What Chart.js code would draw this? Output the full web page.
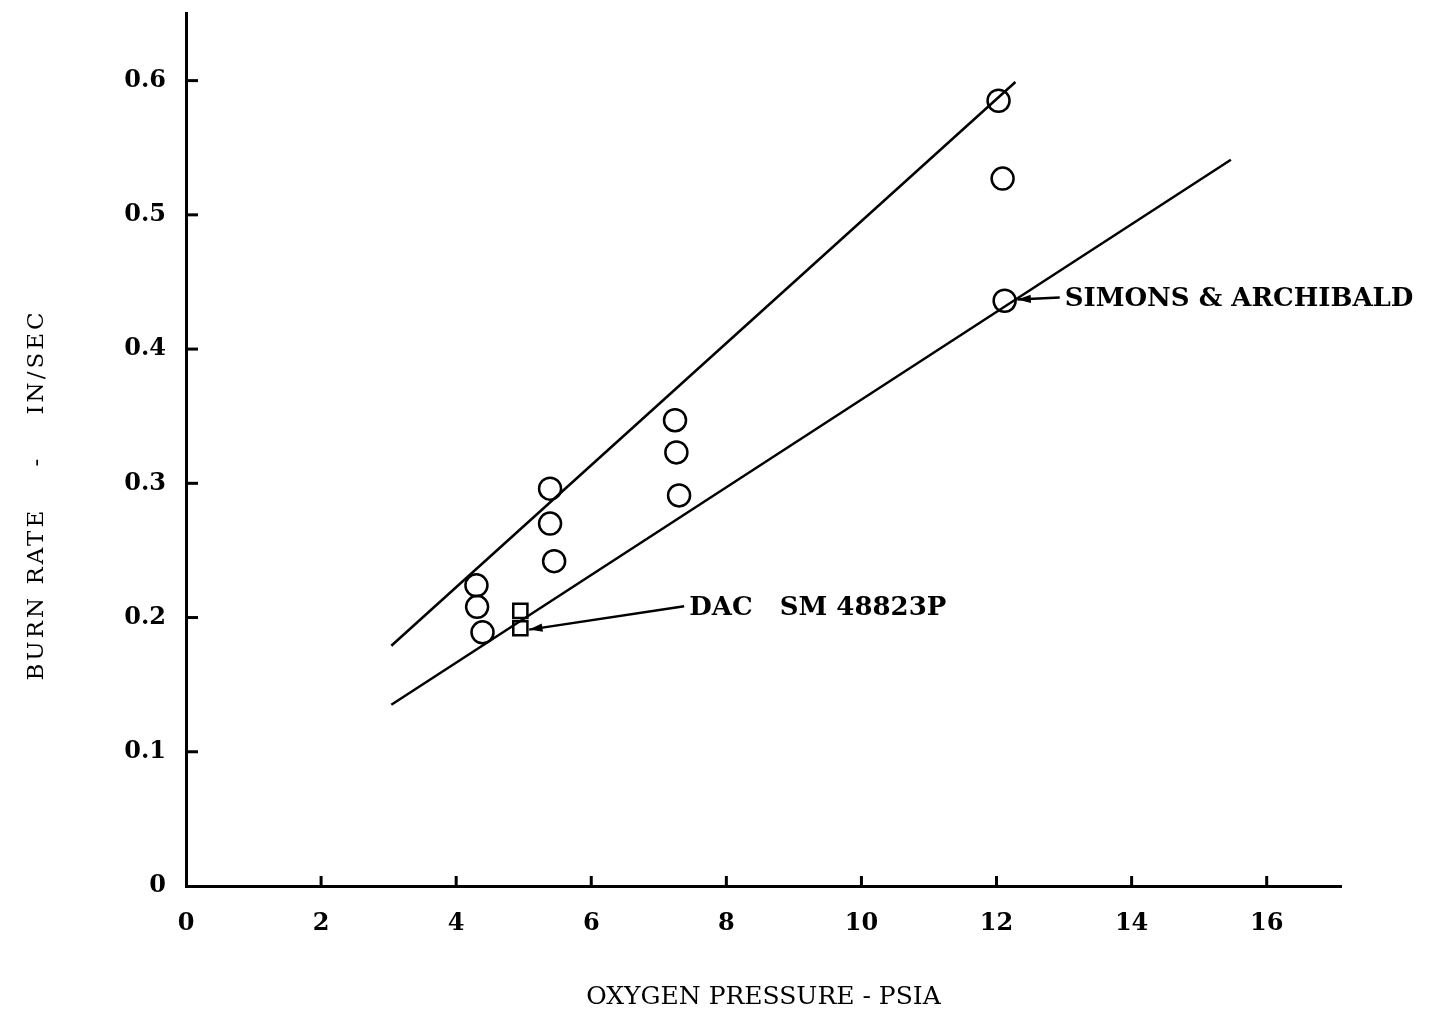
<!DOCTYPE html>
<html>
<head>
<meta charset="utf-8">
<script src="https://cdn.jsdelivr.net/npm/chart.js@4.4.0/dist/chart.umd.min.js"></script>
<style>
  body { margin: 0; background: #fff; }
  #wrap { width: 1431px; height: 1014px; }
</style>
</head>
<body>
<div id="wrap"><canvas id="chart" width="1431" height="1014"></canvas></div>
<script>
// measured points, oxygen pressure (psia) vs burn rate (in/sec)
const circleX = [4.30, 4.31, 4.39, 5.39, 5.39, 5.45, 7.24, 7.26, 7.30, 12.03, 12.09, 12.12];
const circleY = [0.224, 0.208, 0.189, 0.296, 0.270, 0.242, 0.347, 0.323, 0.291, 0.585, 0.527, 0.436];

const squareX = [4.95, 4.95];
const squareY = [0.205, 0.192];

// the two fitted lines, end points
const upperX = [3.04, 12.28];
const upperY = [0.179, 0.599];
const lowerX = [3.04, 15.47];
const lowerY = [0.135, 0.541];

const xTicks = [0, 2, 4, 6, 8, 10, 12, 14, 16];
const yTicks = [0, 0.1, 0.2, 0.3, 0.4, 0.5, 0.6];

// callouts: label text, where the text starts, where the arrow points
const notes = [
  { text: 'DAC   SM 48823P', x: 7.42, y: 0.207, tipX: 5.08, tipY: 0.191 },
  { text: 'SIMONS & ARCHIBALD', x: 12.98, y: 0.437, tipX: 12.31, tipY: 0.437 },
];

const toPts = (xs, ys) => xs.map((x, i) => ({ x, y: ys[i] }));

const SERIF = '"DejaVu Serif", "Liberation Serif", serif';

const extras = {
  id: 'extras',
  afterDraw(chart) {
    const { ctx, chartArea } = chart;
    const xs = chart.scales.x;
    const ys = chart.scales.y;
    ctx.save();
    ctx.strokeStyle = '#000';
    ctx.fillStyle = '#000';

    // tick marks point inward
    ctx.lineWidth = 3;
    for (const v of xTicks) {
      if (v === 0) continue;
      const px = xs.getPixelForValue(v);
      ctx.beginPath();
      ctx.moveTo(px, chartArea.bottom);
      ctx.lineTo(px, chartArea.bottom - 10);
      ctx.stroke();
    }
    for (const v of yTicks) {
      if (v === 0) continue;
      const py = ys.getPixelForValue(v);
      ctx.beginPath();
      ctx.moveTo(chartArea.left, py);
      ctx.lineTo(chartArea.left + 12, py);
      ctx.stroke();
    }

    // callouts
    ctx.font = 'bold 26px ' + SERIF;
    ctx.textBaseline = 'middle';
    ctx.textAlign = 'left';
    ctx.lineWidth = 2.5;
    for (const n of notes) {
      const tx = xs.getPixelForValue(n.x);
      const ty = ys.getPixelForValue(n.y);
      const ax = xs.getPixelForValue(n.tipX);
      const ay = ys.getPixelForValue(n.tipY);
      const sx = tx - 3;
      ctx.beginPath();
      ctx.moveTo(sx, ty - 2);
      ctx.lineTo(ax, ay);
      ctx.stroke();
      const ang = Math.atan2(ay - (ty - 2), ax - sx);
      ctx.beginPath();
      ctx.moveTo(ax, ay);
      ctx.lineTo(ax - 14 * Math.cos(ang - 0.3), ay - 14 * Math.sin(ang - 0.3));
      ctx.lineTo(ax - 14 * Math.cos(ang + 0.3), ay - 14 * Math.sin(ang + 0.3));
      ctx.closePath();
      ctx.fill();
      ctx.fillText(n.text, tx + 2, ty);
    }

    // y axis title
    ctx.font = '23px ' + SERIF;
    ctx.letterSpacing = '3px';
    ctx.textAlign = 'center';
    ctx.translate(37, 495);
    ctx.rotate(-Math.PI / 2);
    ctx.fillText('BURN RATE    -    IN/SEC', 0, 0);
    ctx.restore();
  },
};

new Chart(document.getElementById('chart'), {
  type: 'scatter',
  data: {
    datasets: [
      {
        label: 'Upper fit',
        type: 'line',
        data: toPts(upperX, upperY),
        borderColor: '#000',
        borderWidth: 2.5,
        pointRadius: 0,
        fill: false,
      },
      {
        label: 'Lower fit',
        type: 'line',
        data: toPts(lowerX, lowerY),
        borderColor: '#000',
        borderWidth: 2.5,
        pointRadius: 0,
        fill: false,
      },
      {
        label: 'Simons & Archibald',
        data: toPts(circleX, circleY),
        pointStyle: 'circle',
        pointRadius: 11,
        backgroundColor: 'rgba(255,255,255,0)',
        borderColor: '#000',
        borderWidth: 2.5,
      },
      {
        label: 'DAC SM 48823P',
        data: toPts(squareX, squareY),
        pointStyle: 'rect',
        pointRadius: 10,
        backgroundColor: 'rgba(255,255,255,0)',
        borderColor: '#000',
        borderWidth: 2.5,
      },
    ],
  },
  options: {
    responsive: false,
    maintainAspectRatio: false,
    animation: false,
    layout: { padding: { top: 10, right: 90, left: 0, bottom: 0 } },
    plugins: {
      legend: { display: false },
      tooltip: { enabled: false },
    },
    scales: {
      x: {
        type: 'linear',
        min: 0,
        max: 17.1,
        grid: { display: false },
        border: { color: '#000', width: 3 },
        ticks: {
          stepSize: 2,
          includeBounds: false,
          color: '#000',
          padding: 15,
          font: { family: SERIF, size: 24, weight: 'bold' },
        },
        title: {
          display: true,
          text: 'OXYGEN PRESSURE - PSIA',
          color: '#000',
          font: { family: SERIF, size: 25 },
          padding: { top: 0, bottom: 2 },
        },
        afterFit(scale) {
          scale.height = 128;
          scale.paddingLeft = 0;
          scale.paddingRight = 0;
        },
      },
      y: {
        type: 'linear',
        min: 0,
        max: 0.65,
        grid: { display: false },
        border: { color: '#000', width: 3 },
        ticks: {
          stepSize: 0.1,
          includeBounds: false,
          color: '#000',
          padding: 12,
          font: { family: SERIF, size: 24, weight: 'bold' },
          callback: (v) => (v === 0 ? '0' : v.toFixed(1)),
        },
        afterFit(scale) {
          scale.width = 186;
          scale.paddingTop = 0;
          scale.paddingBottom = 0;
        },
      },
    },
  },
  plugins: [extras],
});
</script>
</body>
</html>
